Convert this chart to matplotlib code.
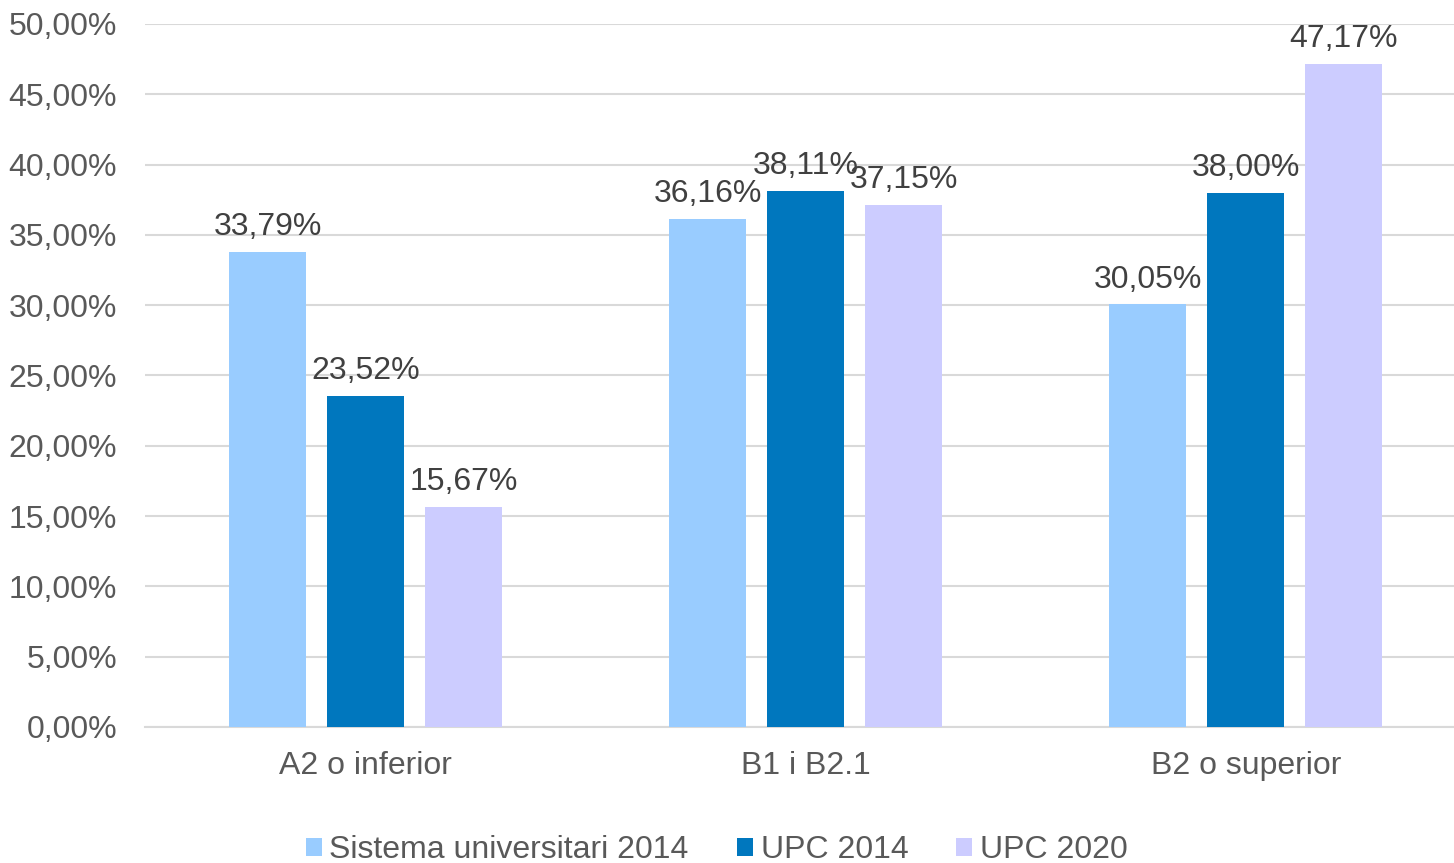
import matplotlib
matplotlib.use("Agg")
import matplotlib.pyplot as plt
import numpy as np

plt.rcParams['font.family'] = ['Liberation Sans', 'DejaVu Sans']

categories = ["A2 o inferior", "B1 i B2.1", "B2 o superior"]
series_names = ["Sistema universitari 2014", "UPC 2014", "UPC 2020"]
sistema_2014 = [33.79, 36.16, 30.05]
upc_2014 = [23.52, 38.11, 38.00]
upc_2020 = [15.67, 37.15, 47.17]
colors = ["#99CCFF", "#0077BE", "#CCCCFF"]

fig = plt.figure(figsize=(14.54, 8.63), dpi=100)
ax = fig.add_axes([0.0997, 0.1576, 0.9003, 0.8146])

x = np.arange(len(categories))
width = 0.175
step = 0.223
for i, (vals, name, col) in enumerate(zip([sistema_2014, upc_2014, upc_2020], series_names, colors)):
    pos = x + (i - 1) * step
    ax.bar(pos, vals, width, color=col, label=name, zorder=3)
    for p, v in zip(pos, vals):
        ax.text(p, v + 0.7, f"{v:.2f}%".replace(".", ","), ha="center", va="bottom",
                fontsize=23, color="#404040", zorder=4)

ax.set_xlim(-0.502, 2.473)
ax.set_ylim(0, 50)
ax.set_yticks(np.arange(0, 50.1, 5))
ax.set_yticklabels([f"{t:.2f}%".replace(".", ",") for t in np.arange(0, 50.1, 5)])
ax.set_xticks(x)
ax.set_xticklabels(categories)
ax.tick_params(axis="both", length=0, labelsize=23, labelcolor="#595959")
ax.tick_params(axis="y", pad=20)
ax.tick_params(axis="x", pad=17)
ax.grid(axis="y", color="#D9D9D9", linewidth=1.5, zorder=0)
for s in ["top", "right", "left"]:
    ax.spines[s].set_visible(False)
ax.spines["bottom"].set_color("#D9D9D9")
ax.spines["bottom"].set_linewidth(1.5)

leg = fig.legend(loc="center", bbox_to_anchor=(0.493, 0.015), ncol=3, frameon=False,
                 fontsize=23, handlelength=0.5, handleheight=0.5, handletextpad=0.25,
                 columnspacing=1.5, labelcolor="#595959")

fig.savefig("out.png", dpi=100)
